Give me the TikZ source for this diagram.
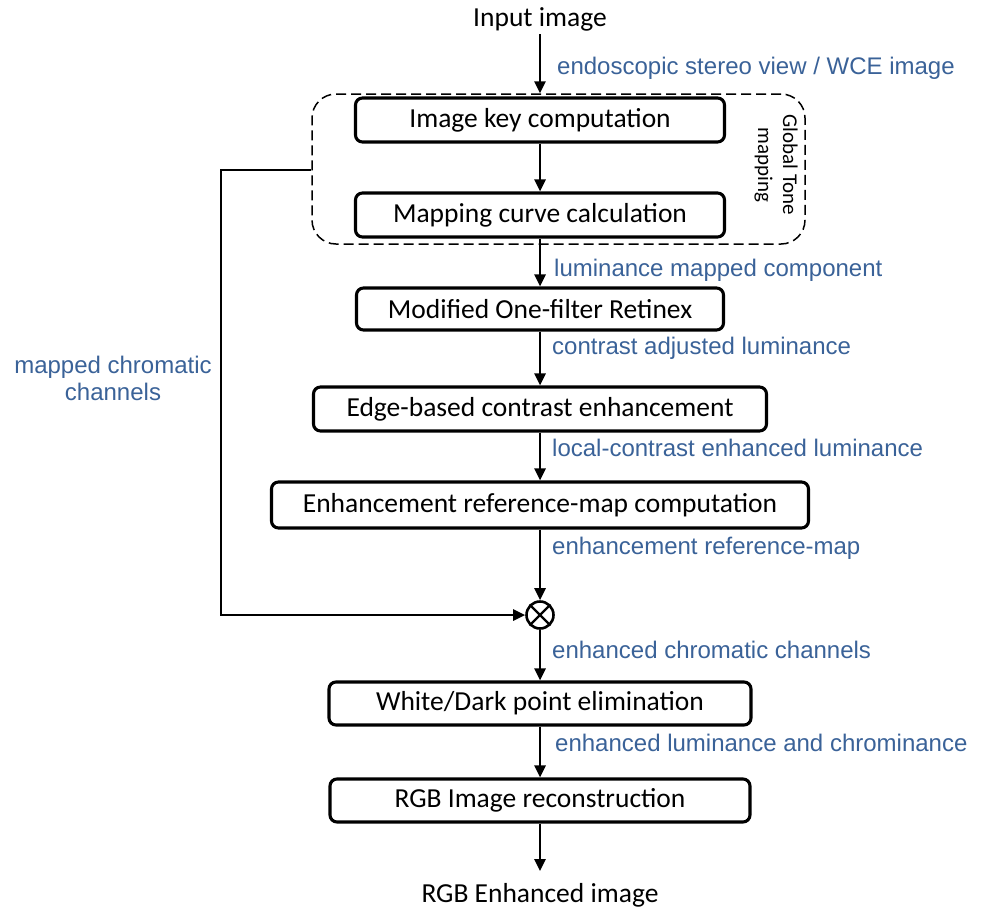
\documentclass[tikz,border=0pt]{standalone}
\usepackage{fontspec}
\setmainfont{Carlito}
\newfontfamily\notefont{Liberation Sans}
\usetikzlibrary{arrows.meta,positioning}

\definecolor{noteblue}{RGB}{58,98,152}

\tikzset{
  stage/.style={draw, line width=3.1pt, rounded corners=7pt, minimum height=44pt,
    inner sep=0pt, font=\fontsize{27.5}{33}\selectfont},
  flow/.style={line width=2.6pt, -{Triangle[length=12pt,width=11pt]}},
  note/.style={text=noteblue, anchor=west, inner sep=0pt,
    font=\notefont\fontsize{24}{27}\selectfont},
}

\begin{document}
\begin{tikzpicture}[x=1pt,y=-1pt]
  \useasboundingbox (0,0) rectangle (985,911);
  % input and global tone mapping group
  \node[font=\fontsize{27.5}{33}\selectfont] (input) at (540,19) {Input image};
  \node[draw, dashed, dash pattern=on 10pt off 5pt, line width=1.5pt, rounded corners=24pt,
    minimum width=493pt, minimum height=150pt] (gtm) at (558.5,169) {};
  \node[stage, minimum width=369pt] (key) at (540,120) {Image key computation};
  \node[stage, minimum width=369pt] (curve) at (540,215) {Mapping curve calculation};
  \node[rotate=-90, align=center, font=\fontsize{21}{25}\selectfont] (gtmname) at (776,165) {Global Tone\\mapping};
  % enhancement chain
  \node[stage, minimum width=367pt, minimum height=42pt] (retinex) at (540,309) {Modified One-filter Retinex};
  \node[stage, minimum width=453pt] (edge) at (540,409) {Edge-based contrast enhancement};
  \node[stage, minimum width=537pt, minimum height=46pt] (refmap) at (540,505) {Enhancement reference-map computation};
  \node[circle, draw, line width=2.6pt, minimum size=27pt, inner sep=0pt] (mix) at (540,615) {};
  \node[stage, minimum width=422pt, minimum height=43pt] (elim) at (540,703.5) {White/Dark point elimination};
  \node[stage, minimum width=420pt, minimum height=43pt] (recon) at (540,800.5) {RGB Image reconstruction};
  \node[font=\fontsize{27.5}{33}\selectfont] (output) at (540,895) {RGB Enhanced image};
  \coordinate (outtip) at (540,871);
  \coordinate (bend) at (221,170);
  % labels
  \node[note] (lblview) at (557,68) {endoscopic stereo view / WCE image};
  \node[note] (lbllum) at (554,270) {luminance mapped component};
  \node[note] (lblcontrast) at (552,348) {contrast adjusted luminance};
  \node[note] (lbllocal) at (552,448) {local-contrast enhanced luminance};
  \node[note] (lblref) at (552,548) {enhancement reference-map};
  \node[note] (lblchan) at (552,650) {enhanced chromatic channels};
  \node[note] (lblchrom) at (555,743) {enhanced luminance and chrominance};
  \node[note, anchor=center, align=center] (lblmapped) at (113,378) {mapped chromatic\\channels};
  % connectors
  \draw[flow] (input) -- (input |- gtm.north);
  \draw[flow] (key) -- (curve);
  \draw[flow] (curve) -- (retinex);
  \draw[flow] (retinex) -- (edge);
  \draw[flow] (edge) -- (refmap);
  \draw[flow] (refmap) -- (mix);
  \draw[line width=2.2pt] (mix.north west) -- (mix.south east) (mix.north east) -- (mix.south west);
  \draw[flow] (gtm.west |- bend) -- (bend) |- (mix);
  \draw[flow] (mix) -- (elim);
  \draw[flow] (elim) -- (recon);
  \draw[flow] (recon) -- (outtip);
\end{tikzpicture}
\end{document}
